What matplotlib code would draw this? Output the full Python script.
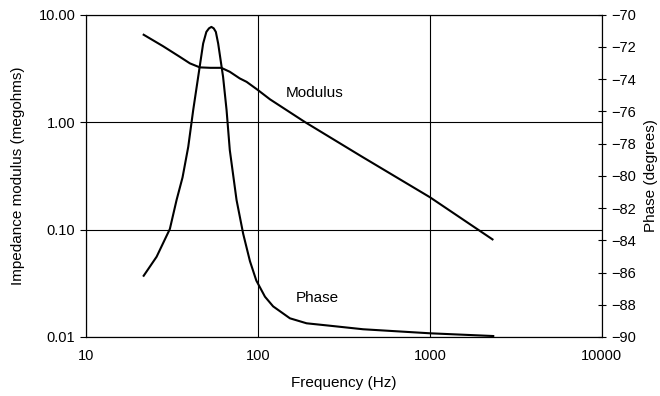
import matplotlib.pyplot as plt
import matplotlib.ticker as ticker

plt.rcParams['font.family'] = ['Liberation Sans', 'DejaVu Sans']

# modulus (megohms) vs frequency (Hz)
mod_freq = [21.7, 28.1, 35.2, 40.3, 46, 53, 61.3, 68.7, 78.5, 86, 100, 117.6,
            188, 400, 1000, 2312]
mod_vals = [6.5, 5.09, 4.05, 3.52, 3.23, 3.2, 3.2, 2.94, 2.55, 2.37, 1.99, 1.63,
            1.0, 0.48, 0.20, 0.081]

# phase (degrees) vs frequency (Hz)
ph_freq = [21.7, 25.8, 30.8, 33.7, 36.5, 39.4, 42.1, 45, 48.1, 50.2, 52, 53.7,
           55.4, 57, 58.8, 62.8, 65.8, 68.7, 75.2, 82.2, 90, 98, 110, 122.7,
           153.6, 192, 262, 409, 1000, 2335]
ph_vals = [-86.2, -85.02, -83.3, -81.5, -80.1, -78.2, -75.92, -73.86, -71.79,
           -71.07, -70.85, -70.76, -70.85, -71.07, -71.79, -73.86, -75.92, -78.4,
           -81.5, -83.6, -85.3, -86.5, -87.5, -88.1, -88.84, -89.15, -89.3,
           -89.52, -89.77, -89.94]

fig = plt.figure(figsize=(6.6, 3.96), dpi=100)
ax = fig.add_axes([0.130, 0.149, 0.782, 0.814])
ax2 = ax.twinx()

ax.plot(mod_freq, mod_vals, color='black', lw=1.5)
ax2.plot(ph_freq, ph_vals, color='black', lw=1.5)

ax.set_xscale('log')
ax.set_yscale('log')
ax.set_xlim(10, 10000)
ax.set_ylim(0.01, 10)
ax2.set_ylim(-90, -70)

ax.set_yticks([0.01, 0.1, 1, 10])
ax.yaxis.set_major_formatter(ticker.FormatStrFormatter('%.2f'))
ax.yaxis.set_minor_locator(ticker.NullLocator())
ax.set_xticks([10, 100, 1000, 10000])
ax.xaxis.set_major_formatter(ticker.FormatStrFormatter('%d'))
ax.xaxis.set_minor_locator(ticker.NullLocator())
ax2.set_yticks(range(-90, -69, 2))

ax.grid(True, color='black', lw=0.8)
ax.tick_params(axis='x', length=0, labelsize=10.5, pad=9)
ax.tick_params(axis='y', direction='out', length=4, labelsize=10.5)
ax2.tick_params(axis='y', direction='inout', length=6, labelsize=10.5)

for a in (ax, ax2):
    for s in a.spines.values():
        s.set_linewidth(0.8)

ax.set_xlabel('Frequency (Hz)', fontsize=11, labelpad=9)
ax.set_ylabel('Impedance modulus (megohms)', fontsize=11, labelpad=10)
ax2.set_ylabel('Phase (degrees)', fontsize=11, labelpad=6)

ax.text(145, 1.85, 'Modulus', fontsize=11, va='center')
ax2.text(165, -87.6, 'Phase', fontsize=11, va='center')

fig.savefig('out.png', dpi=100)
